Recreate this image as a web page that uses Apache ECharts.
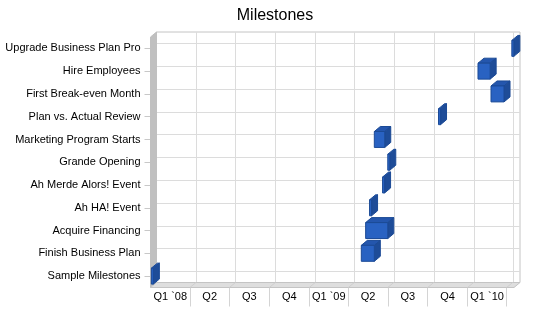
<!DOCTYPE html>
<html>
<head>
<meta charset="utf-8">
<script src="https://cdn.jsdelivr.net/npm/echarts@6/dist/echarts.min.js"></script>
<style>
html,body{margin:0;padding:0;background:#fff;}
#chart{width:550px;height:318px;}
</style>
</head>
<body>
<div id="chart"></div>
<script>
// Categories, bottom to top
var milestones = ['Sample Milestones','Finish Business Plan','Acquire Financing','Ah HA! Event','Ah Merde Alors! Event','Grande Opening','Marketing Program Starts','Plan vs. Actual Review','First Break-even Month','Hire Employees','Upgrade Business Plan Pro'];
var startDates = ['2008-01-03','2009-05-01','2009-05-11','2009-05-20','2009-06-19','2009-07-01','2009-05-31','2009-10-26','2010-02-24','2010-01-25','2010-04-13'];
var endDates   = ['2008-01-03','2009-05-31','2009-07-01','2009-05-20','2009-06-19','2009-07-01','2009-06-24','2009-10-26','2010-03-26','2010-02-22','2010-04-13'];
// Quarter boundaries and labels
var quarterStarts = ['2008-01-01','2008-04-01','2008-07-01','2008-10-01','2009-01-01','2009-04-01','2009-07-01','2009-10-01','2010-01-01','2010-04-01'];
var quarterLabels = ['Q1 `08','Q2','Q3','Q4','Q1 `09','Q2','Q3','Q4','Q1 `10'];
var axisStart = '2008-01-01';
var axisEnd = '2010-04-18';

function t(s){ return new Date(s + 'T00:00:00').getTime(); }
var qT = quarterStarts.map(t);
var tickVals = qT.slice(1);
var labelVals = [];
for (var i = 0; i < quarterLabels.length; i++) labelVals.push((qT[i] + qT[i+1]) / 2);

var DX = 6, DY = 5;
var barData = milestones.map(function(n, i){ return [i, t(startDates[i]), t(endDates[i])]; });

var chart = echarts.init(document.getElementById('chart'));
var FONT = 'Liberation Sans, Arial, sans-serif';
chart.setOption({
  animation: false,
  backgroundColor: '#fff',
  title: {text: 'Milestones', left: 'center', top: 3,
    textStyle: {fontFamily: FONT, fontSize: 16, fontWeight: 'normal', color: '#000'}},
  grid: {left: 150.5, right: 36, top: 37, bottom: 30.5},
  xAxis: {
    type: 'value', min: t(axisStart), max: t(axisEnd),
    axisLine: {show: false},
    splitLine: {show: false},
    axisTick: {show: true, customValues: tickVals, length: 19, lineStyle: {color: '#d4d4d4'}},
    axisLabel: {customValues: labelVals, margin: 4, fontFamily: FONT, fontSize: 11, color: '#000',
      formatter: function(v){ var k = labelVals.indexOf(v); return k >= 0 ? quarterLabels[k] : ''; }}
  },
  yAxis: {
    type: 'category', data: milestones, boundaryGap: true,
    axisLine: {show: false},
    splitLine: {show: false},
    axisTick: {show: true, alignWithLabel: true, length: 6, lineStyle: {color: '#c8c8c8'}},
    axisLabel: {margin: 10, fontFamily: FONT, fontSize: 11, color: '#000', interval: 0}
  },
  series: [
    {
      type: 'custom', name: 'frame', z: 1, clip: false, silent: true,
      data: [[0, t(axisStart), t(axisStart)]],
      encode: {x: 1, y: 0},
      renderItem: function(params, api){
        var cs = params.coordSys;
        var L = cs.x, T = cs.y, R = cs.x + cs.width, B = cs.y + cs.height;
        var ch = [];
        ch.push({type:'rect', shape:{x:L+DX, y:T-DY, width:cs.width, height:cs.height}, style:{fill:'#fff', stroke:'#c4c4c4', lineWidth:1}});
        for (var i = 0; i < milestones.length; i++) {
          var y = Math.round(api.coord([t(axisStart), i])[1] - DY) + 0.5;
          ch.push({type:'line', shape:{x1:L+DX, y1:y, x2:R+DX, y2:y}, style:{stroke:'#dcdcdc', lineWidth:1}});
        }
        for (var j = 0; j < tickVals.length; j++) {
          var x = Math.round(api.coord([tickVals[j], 0])[0] + DX) + 0.5;
          ch.push({type:'line', shape:{x1:x, y1:T-DY, x2:x, y2:B-DY}, style:{stroke:'#dcdcdc', lineWidth:1}});
        }
        ch.push({type:'polygon', shape:{points:[[L,T],[L+DX,T-DY],[L+DX,B-DY],[L,B]]}, style:{fill:'#c0c0c0', stroke:'#c0c0c0', lineWidth:1}});
        ch.push({type:'polygon', shape:{points:[[L,B],[L+DX,B-DY],[R+DX,B-DY],[R,B]]}, style:{fill:'#dedede', stroke:'#c4c4c4', lineWidth:1}});
        for (var k = 0; k < tickVals.length; k++) {
          var fx = api.coord([tickVals[k], 0])[0];
          ch.push({type:'line', shape:{x1:fx, y1:B, x2:fx+DX, y2:B-DY}, style:{stroke:'#cfcfcf', lineWidth:1}});
        }
        return {type:'group', children: ch};
      }
    },
    {
      type: 'custom', name: 'bars', z: 5, clip: false,
      data: barData,
      encode: {x: [1, 2], y: 0},
      renderItem: function(params, api){
        var cat = api.value(0);
        var s = api.coord([api.value(1), cat]);
        var e = api.coord([api.value(2), cat]);
        var h = api.size([0, 1])[1] * 0.7;
        var x0 = s[0];
        var w = Math.max(e[0] - s[0], 2);
        var y0 = s[1] - h / 2;
        var edge = '#1b4a96';
        return {type:'group', children:[
          {type:'polygon', shape:{points:[[x0,y0],[x0+DX,y0-DY],[x0+w+DX,y0-DY],[x0+w,y0]]}, style:{fill:'#2456ad', stroke:edge, lineWidth:1}},
          {type:'polygon', shape:{points:[[x0+w,y0],[x0+w+DX,y0-DY],[x0+w+DX,y0+h-DY],[x0+w,y0+h]]}, style:{fill:'#1e4c98', stroke:edge, lineWidth:1}},
          {type:'rect', shape:{x:x0, y:y0, width:w, height:h}, style:{fill:'#2962c2', stroke:edge, lineWidth:1}}
        ]};
      }
    }
  ]
});
</script>
</body>
</html>
